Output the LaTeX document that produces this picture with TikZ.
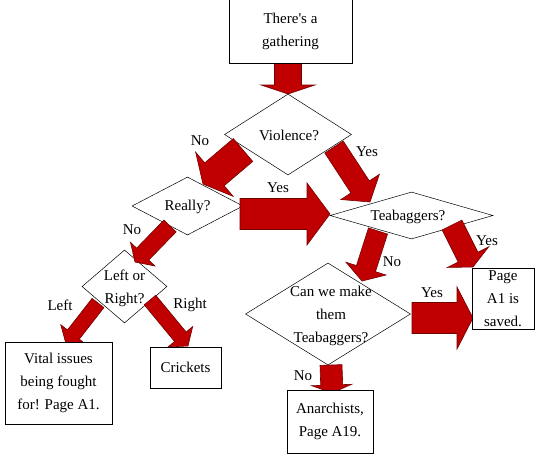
\documentclass[tikz,border=0pt]{standalone}
\usepackage{fontspec}
\setmainfont{Liberation Serif}
\usetikzlibrary{calc,shapes.geometric}
\definecolor{arrowred}{RGB}{192,0,0}
\definecolor{arrowedge}{RGB}{115,0,0}
\tikzset{
  blockarrow/.style={fill=arrowred, draw=arrowedge, line width=0.6pt, line join=miter},
  txt/.style={font=\fontsize{15}{23}\selectfont, align=center, inner sep=0pt},
  box/.style={txt, draw, fill=white, line width=0.7pt},
  dia/.style={diamond, draw, fill=white, line width=0.5pt, inner sep=0pt},
}
\newcommand\barrow[5]{%
  \coordinate (bacent) at ($(#2)!#5!(#1)$);
  \filldraw[blockarrow] ($(#1)!#3!90:(#2)$) -- ($(bacent)!#3!90:(#2)$) -- ($(bacent)!#4!90:(#2)$) -- (#2)
    -- ($(bacent)!#4!-90:(#2)$) -- ($(bacent)!#3!-90:(#2)$) -- ($(#1)!#3!-90:(#2)$) -- cycle;
}
\begin{document}
\begin{tikzpicture}[x=1pt,y=-1pt]
\useasboundingbox (0,0) rectangle (558,456);
\fill[white] (0,0) rectangle (558,456);

% diamonds
\node[dia, minimum width=127pt, minimum height=81pt] (viol) at (288,134.5) {};
\node[dia, minimum width=111pt, minimum height=58pt] (really) at (187.5,206) {};
\node[dia, minimum width=163pt, minimum height=47pt] (teab) at (411.5,215.5) {};
\node[dia, minimum width=85pt, minimum height=73pt] (lor) at (124.5,286.5) {};
\node[dia, minimum width=165pt, minimum height=102pt] (canwe) at (328,314) {};

% arrow end points
\coordinate (t1) at (288,63);   \coordinate (h1) at (288,94);
\coordinate (t2) at (243,150);  \coordinate (h2) at (203,184);
\coordinate (t3) at (334,147);  \coordinate (h3) at (370,202);
\coordinate (t4) at (170,226);  \coordinate (h4) at (135,262);
\coordinate (t5) at (240,214);  \coordinate (h5) at (330,214);
\coordinate (t6) at (98,303);   \coordinate (h6) at (66,344);
\coordinate (t7) at (150,300);  \coordinate (h7) at (188,346);
\coordinate (t8) at (378,231);  \coordinate (h8) at (362,281);
\coordinate (t9) at (452,225);  \coordinate (h9) at (473,267);
\coordinate (t10) at (412,318); \coordinate (h10) at (473,318);
\coordinate (t11) at (331,365); \coordinate (h11) at (332,393);

\barrow{t1}{h1}{13.5pt}{27pt}{9pt}
\barrow{t2}{h2}{15pt}{29pt}{15pt}
\barrow{t3}{h3}{11pt}{23pt}{18pt}
\barrow{t4}{h4}{8.5pt}{17pt}{11pt}
\barrow{t5}{h5}{15.5pt}{31pt}{23pt}
\barrow{t6}{h6}{7.5pt}{16pt}{12pt}
\barrow{t7}{h7}{7.5pt}{16pt}{12pt}
\barrow{t8}{h8}{10pt}{21pt}{13pt}
\barrow{t9}{h9}{11pt}{23pt}{11pt}
\barrow{t10}{h10}{15.5pt}{31pt}{16pt}
\barrow{t11}{h11}{11pt}{20pt}{8pt}

% diamond texts
\node[txt] (violt) at (289,135) {Violence?};
\node[txt] (reallyt) at (187.5,207) {Really?};
\node[txt] (teabt) at (408,217) {Teabaggers?};
\node[txt] (lort) at (124.5,288) {Left or\\Right?};
\node[txt] (canwet) at (331,316) {Can we make\\them\\Teabaggers?};

% boxes
\node[box, minimum width=123pt, minimum height=64pt] (start) at (290.5,31) {There\textquotesingle s a\\gathering};
\node[box, minimum width=62pt, minimum height=61pt] (pagea1) at (503,298.5) {Page\\A1 is\\saved.};
\node[box, minimum width=86pt, minimum height=63pt] (anarch) at (330,421.5) {Anarchists,\\Page A19.};
\node[box, minimum width=107pt, minimum height=82pt] (vital) at (58.5,383) {Vital issues\\being fought\\for! Page A1.};
\node[box, minimum width=71pt, minimum height=41pt] (crick) at (185.5,367.5) {Crickets};

% labels
\node[txt] (l1) at (200,141) {No};
\node[txt] (l2) at (367,152) {Yes};
\node[txt] (l3) at (278,188) {Yes};
\node[txt] (l4) at (132,230) {No};
\node[txt] (l5) at (60,305) {Left};
\node[txt] (l6) at (190,305) {Right};
\node[txt] (l7) at (392,262) {No};
\node[txt] (l8) at (487,241) {Yes};
\node[txt] (l9) at (432,293) {Yes};
\node[txt] (l10) at (303,376) {No};
\end{tikzpicture}
\end{document}
